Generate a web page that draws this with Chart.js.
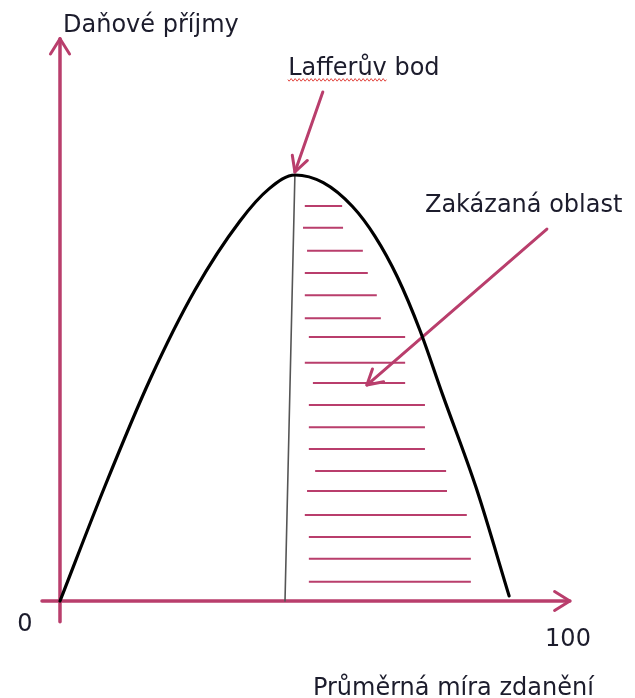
<!DOCTYPE html>
<html>
<head>
<meta charset="utf-8">
<script src="https://cdn.jsdelivr.net/npm/chart.js@4"></script>
<style>
  html, body { margin: 0; padding: 0; background: #fff; }
  #wrap { width: 635px; height: 698px; }
</style>
</head>
<body>
<div id="wrap"><canvas id="laffer" width="635" height="698"></canvas></div>
<script>
// Lafferova křivka - daňová sazba (0..100) a daňové příjmy (vrchol = 100)
const curveX = [0, 10, 20, 30, 40, 46.5, 52.2, 58.5, 65, 70, 75, 80, 85, 92.5, 99.8];
const curveY = [0, 27, 52, 73, 89.2, 96.8, 100, 98.2, 92.6, 85.6, 76.0, 63.5, 48.5, 26.5, 1.2];

// svislá čára z Lafferova bodu
const peakLineX = [52.2, 50.0];
const peakLineY = [100, 0];

// šrafování zakázané oblasti
const hatchY     = [92.7, 87.6, 82.2, 77.0, 71.8, 66.4, 62.0, 55.9, 51.2, 46.0, 40.8, 35.7, 30.5, 25.8, 20.2, 15.0, 9.9, 4.5];
const hatchStart = [54.4, 54.0, 54.9, 54.4, 54.4, 54.4, 55.3, 54.4, 56.2, 55.3, 55.3, 55.3, 56.7, 54.9, 54.4, 55.3, 55.3, 55.3];
const hatchEnd   = [62.7, 62.9, 67.3, 68.4, 70.4, 71.3, 76.7, 76.7, 76.7, 81.1, 81.1, 81.1, 85.8, 86.0, 90.4, 91.3, 91.3, 91.3];

// osy a šipky (počátek -> hrot)
const yAxisX = [0, 0],        yAxisY = [-4.9, 132];
const xAxisX = [-4, 113.3],   xAxisY = [0, 0];
const lafferArrowX = [58.4, 52.2], lafferArrowY = [119.5, 100.7];
const zoneArrowX = [108.2, 68.2],  zoneArrowY = [87.3, 50.7];

const PINK = '#b93e6c';
const TEXT = '#1c1c2c';
const FONT = '"DejaVu Sans", sans-serif';

const pts = (xs, ys) => xs.map((x, i) => ({ x: x, y: ys[i] }));

// jedna datová řada pro všechny šrafy, mezery = null
const hatchData = [];
hatchY.forEach((y, i) => {
    hatchData.push({ x: hatchStart[i], y: y });
    hatchData.push({ x: hatchEnd[i], y: y });
    hatchData.push({ x: hatchEnd[i], y: null });
});

const labels = [
    { text: 'Daňové příjmy', x: 0.67, y: 133.6, align: 'left' },
    { text: 'Lafferův bod', x: 50.7, y: 123.5, align: 'left', squiggle: 'Lafferův' },
    { text: 'Zakázaná oblast', x: 81.1, y: 91.3, align: 'left' },
    { text: '0', x: -7.8, y: -7.0, align: 'center' },
    { text: '100', x: 107.8, y: -10.5, align: 'left' },
    { text: 'Průměrná míra zdanění', x: 56.2, y: -22.0, align: 'left' }
];

// datasety se šipkou na konci
const arrowSets = [
    { index: 3, len: 18, angle: 32 },
    { index: 4, len: 18, angle: 32 },
    { index: 5, len: 17, angle: 28 },
    { index: 6, len: 17, angle: 30 }
];

const arrowPlugin = {
    id: 'arrowsAndText',
    afterDatasetsDraw(chart) {
        const ctx = chart.ctx;
        const sx = chart.scales.x, sy = chart.scales.y;
        ctx.save();
        ctx.strokeStyle = PINK;
        ctx.lineWidth = 3;
        ctx.lineCap = 'round';
        ctx.lineJoin = 'round';
        arrowSets.forEach(a => {
            const d = chart.data.datasets[a.index].data;
            const p0 = d[d.length - 2], p1 = d[d.length - 1];
            const x0 = sx.getPixelForValue(p0.x), y0 = sy.getPixelForValue(p0.y);
            const x1 = sx.getPixelForValue(p1.x), y1 = sy.getPixelForValue(p1.y);
            const ang = Math.atan2(y0 - y1, x0 - x1);
            const t = a.angle * Math.PI / 180;
            ctx.beginPath();
            ctx.moveTo(x1 + a.len * Math.cos(ang + t), y1 + a.len * Math.sin(ang + t));
            ctx.lineTo(x1, y1);
            ctx.lineTo(x1 + a.len * Math.cos(ang - t), y1 + a.len * Math.sin(ang - t));
            ctx.stroke();
        });

        ctx.font = '24px ' + FONT;
        ctx.fillStyle = TEXT;
        ctx.textBaseline = 'alphabetic';
        labels.forEach(l => {
            const px = sx.getPixelForValue(l.x), py = sy.getPixelForValue(l.y);
            ctx.textAlign = l.align;
            ctx.fillText(l.text, px, py);
            if (l.squiggle) {
                // červené podvlnění pravopisu
                const w = ctx.measureText(l.squiggle).width;
                ctx.strokeStyle = '#e0403a';
                ctx.lineWidth = 1;
                ctx.beginPath();
                for (let i = 0; i <= w; i += 1) {
                    const yy = py + 5 + 1.3 * Math.sin(i * Math.PI / 2);
                    if (i === 0) ctx.moveTo(px + i, yy); else ctx.lineTo(px + i, yy);
                }
                ctx.stroke();
            }
        });
        ctx.restore();
    }
};

const lineSet = (data, color, width) => ({
    data: data,
    borderColor: color,
    borderWidth: width,
    pointRadius: 0,
    fill: false,
    spanGaps: false,
    borderCapStyle: 'round'
});

const curve = lineSet(pts(curveX, curveY), '#000', 3.2);
curve.cubicInterpolationMode = 'monotone';

new Chart(document.getElementById('laffer'), {
    type: 'line',
    data: {
        datasets: [
            curve,
            lineSet(pts(peakLineX, peakLineY), '#555', 1.6),
            Object.assign(lineSet(hatchData, PINK, 2), { borderCapStyle: 'butt' }),
            lineSet(pts(yAxisX, yAxisY), PINK, 3.5),
            lineSet(pts(xAxisX, xAxisY), PINK, 3.5),
            lineSet(pts(lafferArrowX, lafferArrowY), PINK, 3),
            lineSet(pts(zoneArrowX, zoneArrowY), PINK, 3)
        ]
    },
    options: {
        responsive: false,
        animation: false,
        layout: { padding: 0 },
        plugins: { legend: { display: false }, tooltip: { enabled: false } },
        scales: {
            x: { type: 'linear', display: false, min: -13.333, max: 127.778 },
            y: { type: 'linear', display: false, min: -22.77, max: 141.08 }
        }
    },
    plugins: [arrowPlugin]
});
</script>
</body>
</html>
